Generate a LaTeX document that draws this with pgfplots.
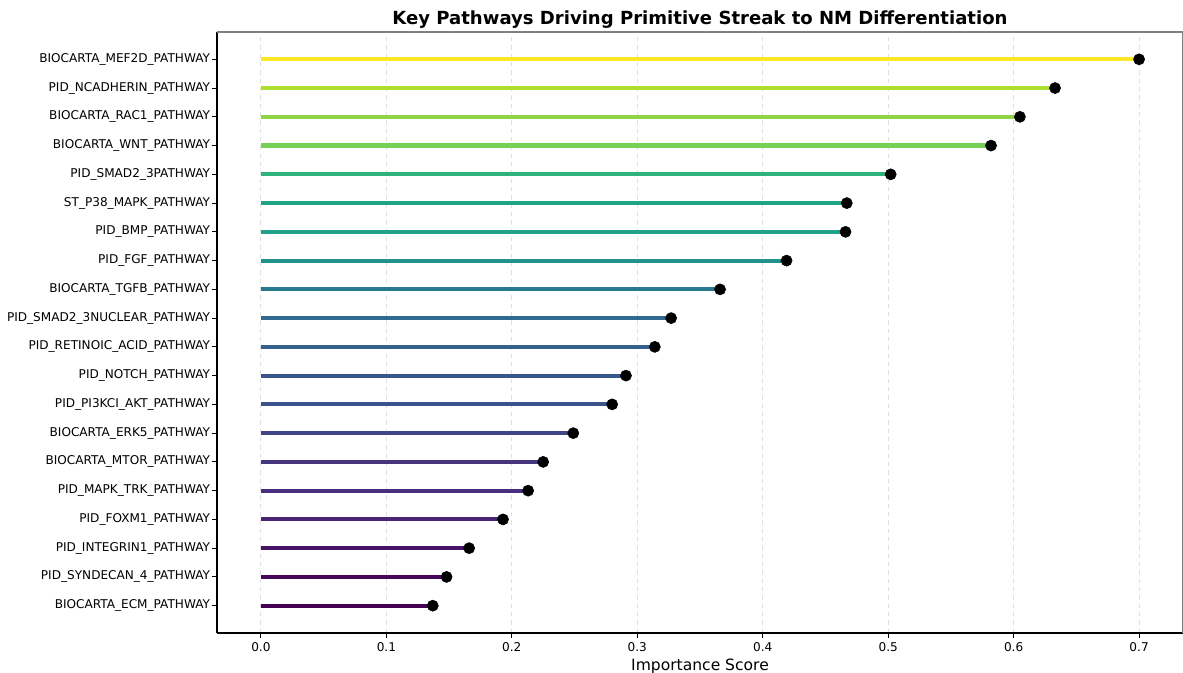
\documentclass[border=0pt]{standalone}
\usepackage{pgfplots}
\pgfplotsset{compat=1.18}
\usepackage{fontspec}
\setmainfont{DejaVu Sans}
\definecolor{c0}{HTML}{440154}
\definecolor{c1}{HTML}{46085C}
\definecolor{c2}{HTML}{471365}
\definecolor{c3}{HTML}{482475}
\definecolor{c4}{HTML}{472F7D}
\definecolor{c5}{HTML}{45367F}
\definecolor{c6}{HTML}{414487}
\definecolor{c7}{HTML}{3B538B}
\definecolor{c8}{HTML}{38588C}
\definecolor{c9}{HTML}{33638D}
\definecolor{c10}{HTML}{316A8E}
\definecolor{c11}{HTML}{29798E}
\definecolor{c12}{HTML}{21918C}
\definecolor{c13}{HTML}{20A386}
\definecolor{c14}{HTML}{20A486}
\definecolor{c15}{HTML}{2EB37C}
\definecolor{c16}{HTML}{75D054}
\definecolor{c17}{HTML}{8ED645}
\definecolor{c18}{HTML}{B0DD2F}
\definecolor{c19}{HTML}{FDE725}
\pgfplotstableread{
y v
0 0.137
1 0.148
2 0.166
3 0.193
4 0.213
5 0.225
6 0.249
7 0.280
8 0.291
9 0.314
10 0.327
11 0.366
12 0.419
13 0.466
14 0.467
15 0.502
16 0.582
17 0.605
18 0.633
19 0.700
}\datatable
\begin{document}
\begin{tikzpicture}[x=0.72pt,y=0.72pt]
\useasboundingbox (-217,-40) rectangle (966,633);
\begin{axis}[
  at={(0,0)}, anchor=south west,
  scale only axis, width=695.52pt, height=432.72pt,
  xmin=-0.035, xmax=0.735, ymin=-0.95, ymax=19.95,
  xtick={0,0.1,...,0.7},
  xticklabel style={/pgf/number format/fixed, /pgf/number format/fixed zerofill, /pgf/number format/precision=1},
  /pgf/number format/assume math mode=true,
  ytick={0,...,19},
  yticklabels={BIOCARTA\_ECM\_PATHWAY, PID\_SYNDECAN\_4\_PATHWAY, PID\_INTEGRIN1\_PATHWAY, PID\_FOXM1\_PATHWAY, PID\_MAPK\_TRK\_PATHWAY, BIOCARTA\_MTOR\_PATHWAY, BIOCARTA\_ERK5\_PATHWAY, PID\_PI3KCI\_AKT\_PATHWAY, PID\_NOTCH\_PATHWAY, PID\_RETINOIC\_ACID\_PATHWAY, PID\_SMAD2\_3NUCLEAR\_PATHWAY, BIOCARTA\_TGFB\_PATHWAY, PID\_FGF\_PATHWAY, PID\_BMP\_PATHWAY, ST\_P38\_MAPK\_PATHWAY, PID\_SMAD2\_3PATHWAY, BIOCARTA\_WNT\_PATHWAY, BIOCARTA\_RAC1\_PATHWAY, PID\_NCADHERIN\_PATHWAY, BIOCARTA\_MEF2D\_PATHWAY},
  ticklabel style={font=\fontsize{8.7}{10}\selectfont},
  yticklabel style={xshift=2pt},
  tick align=outside, major tick length=3.5pt,
  tick style={black, line width=0.8pt},
  xtick pos=bottom, ytick pos=left,
  xmajorgrids, grid style={dashed, black!12, line width=0.8pt},
  axis line style={line width=0.8pt},
  separate axis lines,
  every outer x axis line/.append style={black},
  every outer y axis line/.append style={black},
  axis x line*=bottom, axis y line*=left,
  xlabel={Importance Score},
  xlabel style={font=\fontsize{11.2}{13}\selectfont, yshift=2pt},
  title={Key Pathways Driving Primitive Streak to NM Differentiation},
  title style={font=\bfseries\fontsize{13}{15}\selectfont, yshift=-7pt},
  clip=false,
]
\addplot[c0, line width=3pt] coordinates {(0,0) (0.137,0)};
\addplot[c1, line width=3pt] coordinates {(0,1) (0.148,1)};
\addplot[c2, line width=3pt] coordinates {(0,2) (0.166,2)};
\addplot[c3, line width=3pt] coordinates {(0,3) (0.193,3)};
\addplot[c4, line width=3pt] coordinates {(0,4) (0.213,4)};
\addplot[c5, line width=3pt] coordinates {(0,5) (0.225,5)};
\addplot[c6, line width=3pt] coordinates {(0,6) (0.249,6)};
\addplot[c7, line width=3pt] coordinates {(0,7) (0.280,7)};
\addplot[c8, line width=3pt] coordinates {(0,8) (0.291,8)};
\addplot[c9, line width=3pt] coordinates {(0,9) (0.314,9)};
\addplot[c10, line width=3pt] coordinates {(0,10) (0.327,10)};
\addplot[c11, line width=3pt] coordinates {(0,11) (0.366,11)};
\addplot[c12, line width=3pt] coordinates {(0,12) (0.419,12)};
\addplot[c13, line width=3pt] coordinates {(0,13) (0.466,13)};
\addplot[c14, line width=3pt] coordinates {(0,14) (0.467,14)};
\addplot[c15, line width=3pt] coordinates {(0,15) (0.502,15)};
\addplot[c16, line width=3pt] coordinates {(0,16) (0.582,16)};
\addplot[c17, line width=3pt] coordinates {(0,17) (0.605,17)};
\addplot[c18, line width=3pt] coordinates {(0,18) (0.633,18)};
\addplot[c19, line width=3pt] coordinates {(0,19) (0.700,19)};
\addplot[only marks, mark=*, mark size=4pt, black] table[x=v, y=y] {\datatable};
\draw[gray, line width=0.8pt] (rel axis cs:0,1) -- (rel axis cs:1,1);
\draw[gray, line width=0.8pt] (rel axis cs:1,0) -- (rel axis cs:1,1);
\end{axis}
\end{tikzpicture}
\end{document}
